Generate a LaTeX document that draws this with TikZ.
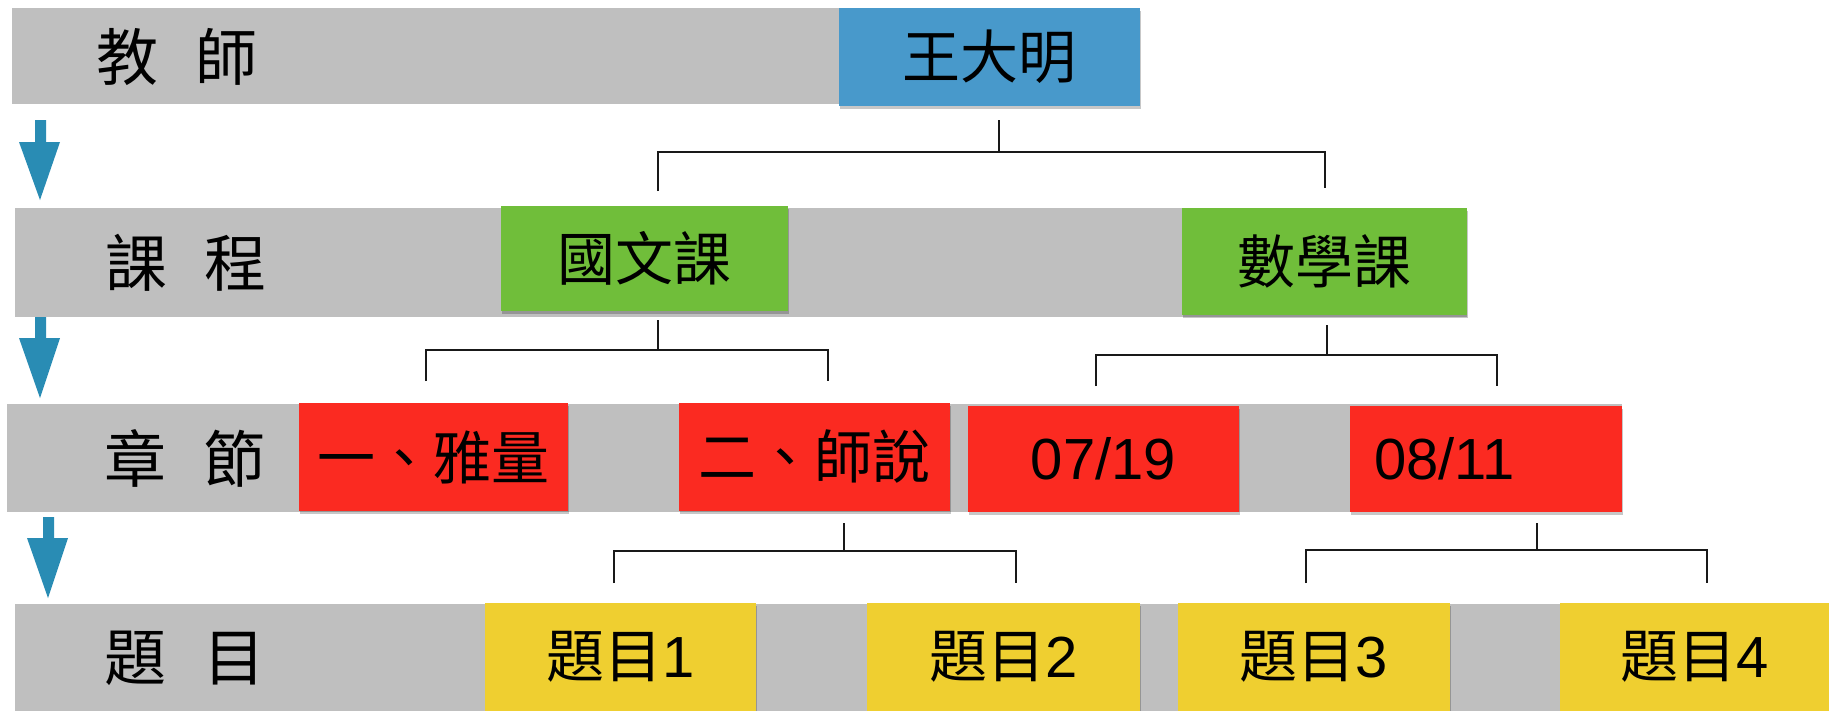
\documentclass[tikz,border=0pt]{standalone}
\usepackage{fontspec}
\setmainfont{Liberation Sans}
\newfontfamily\cjk{Noto Sans CJK TC}
\usetikzlibrary{shadows}
\definecolor{bargray}{RGB}{191,191,191}
\definecolor{boxblue}{RGB}{72,153,203}
\definecolor{boxgreen}{RGB}{112,190,58}
\definecolor{boxred}{RGB}{251,42,33}
\definecolor{boxyellow}{RGB}{239,207,48}
\definecolor{arrowblue}{RGB}{41,140,180}
\definecolor{linecol}{RGB}{25,25,25}
\tikzset{
  bar/.style={fill=bargray},
  boxbase/.style={rectangle, inner sep=0pt, text=black,
    font=\fontsize{58}{60}\selectfont,
    drop shadow={shadow xshift=1pt, shadow yshift=-3pt, opacity=0.22, fill=black}},
  bluebox/.style={boxbase, fill=boxblue},
  greenbox/.style={boxbase, fill=boxgreen},
  redbox/.style={boxbase, fill=boxred},
  yellowbox/.style={boxbase, fill=boxyellow},
  rowlabel/.style={inner sep=0pt, text=black, font=\fontsize{62}{64}\selectfont\cjk},
  conn/.style={draw=linecol, line width=2.5pt},
  downarrow/.style={fill=arrowblue}
}
\begin{document}
\begin{tikzpicture}[x=1pt,y=-1pt]
\useasboundingbox (0,0) rectangle (1829,710);
\fill[white] (0,0) rectangle (1829,710);

% gray row bars
\fill[bar] (12,8) rectangle (840,104);
\fill[bar] (15,208) rectangle (1467,317);
\fill[bar] (7,404) rectangle (1622,512);
\fill[bar] (15,604) rectangle (1829,712);

% row labels
\node[rowlabel] (l1) at (177,57) {教\hspace{38pt}師};
\node[rowlabel] (l2) at (186,263) {課\hspace{38pt}程};
\node[rowlabel] (l3) at (185,458) {章\hspace{38pt}節};
\node[rowlabel] (l4) at (185,658) {題\hspace{38pt}目};

% down arrows
\fill[downarrow] (35,120) -- (46,120) -- (46,142) -- (60,142) -- (40,200) -- (19,142) -- (35,142) -- cycle;
\fill[downarrow] (35,317) -- (46,317) -- (46,338) -- (60,338) -- (40,398) -- (19,338) -- (35,338) -- cycle;
\fill[downarrow] (43,517) -- (54,517) -- (54,538) -- (68,538) -- (48,598) -- (27,538) -- (43,538) -- cycle;

% boxes
\node[bluebox, minimum width=301pt, minimum height=98pt] (t) at (989.5,57) {\cjk 王大明};

\node[greenbox, minimum width=287pt, minimum height=105pt] (c1) at (644.5,258.5) {\cjk 國文課};
\node[greenbox, minimum width=285pt, minimum height=107pt] (c2) at (1324.5,261.5) {\cjk 數學課};

\node[redbox, minimum width=269pt, minimum height=108pt] (s1) at (433.5,457) {\cjk 一、雅量};
\node[redbox, minimum width=271pt, minimum height=108pt] (s2) at (814.5,457) {\cjk 二、師說};
\node[redbox, minimum width=271pt, minimum height=106pt] (s3) at (1103.5,459) {07/19};
\node[redbox, minimum width=272pt, minimum height=106pt, inner xsep=24pt, text width=224pt, align=left] (s4) at (1486,459) {08/11};

\node[yellowbox, minimum width=271pt, minimum height=108pt] (q1) at (620.5,657) {{\cjk 題目}1};
\node[yellowbox, minimum width=273pt, minimum height=108pt] (q2) at (1003.5,657) {{\cjk 題目}2};
\node[yellowbox, minimum width=272pt, minimum height=108pt] (q3) at (1314,657) {{\cjk 題目}3};
\node[yellowbox, minimum width=270pt, minimum height=108pt] (q4) at (1695,657) {{\cjk 題目}4};

% connector points
\coordinate (a1s) at (999,120);  \coordinate (a1m) at (999,152);
\coordinate (a1l) at (658,191);  \coordinate (a1r) at (1325,188);
\coordinate (a2s) at (658,320);  \coordinate (a2m) at (658,350);
\coordinate (a2l) at (426,381);  \coordinate (a2r) at (828,381);
\coordinate (a3s) at (1327,325); \coordinate (a3m) at (1327,355);
\coordinate (a3l) at (1096,386); \coordinate (a3r) at (1497,386);
\coordinate (a4s) at (844,523);  \coordinate (a4m) at (844,551);
\coordinate (a4l) at (614,583);  \coordinate (a4r) at (1016,583);
\coordinate (a5s) at (1537,523); \coordinate (a5m) at (1537,550);
\coordinate (a5l) at (1306,583); \coordinate (a5r) at (1707,583);

% bracket connectors
\draw[conn] (a1s) -- (a1m);
\draw[conn] (a1l) -- (a1l |- a1m) -- (a1r |- a1m) -- (a1r);
\draw[conn] (a2s) -- (a2m);
\draw[conn] (a2l) -- (a2l |- a2m) -- (a2r |- a2m) -- (a2r);
\draw[conn] (a3s) -- (a3m);
\draw[conn] (a3l) -- (a3l |- a3m) -- (a3r |- a3m) -- (a3r);
\draw[conn] (a4s) -- (a4m);
\draw[conn] (a4l) -- (a4l |- a4m) -- (a4r |- a4m) -- (a4r);
\draw[conn] (a5s) -- (a5m);
\draw[conn] (a5l) -- (a5l |- a5m) -- (a5r |- a5m) -- (a5r);
\end{tikzpicture}
\end{document}
